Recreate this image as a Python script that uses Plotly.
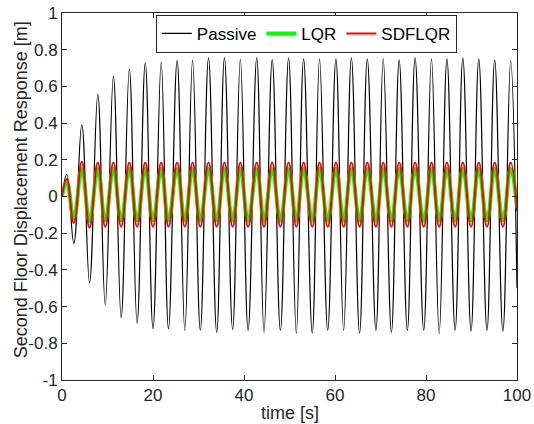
import plotly.graph_objects as go

# Time instants (s): start, alternating peaks/troughs, end
time_s = [0, 1.05, 2.6, 4.35, 6.05, 7.87, 9.5, 11.3, 13.0, 14.8, 16.5, 18.3, 20.0,
          21.8, 23.4, 25.3, 27.0, 28.7, 30.4, 32.2, 34.0, 35.7, 37.5, 39.2, 40.9,
          42.8, 44.4, 46.2, 48.0, 49.8, 51.5, 53.1, 55.0, 56.6, 58.4, 60.2, 61.9,
          63.6, 65.4, 67.1, 69.0, 70.6, 72.4, 74.1, 75.9, 77.6, 79.5, 81.2, 82.9,
          84.6, 86.4, 88.1, 89.9, 91.6, 93.4, 95.1, 96.9, 98.6, 100]

passive = [0, 0.12, -0.255, 0.39, -0.47, 0.557, -0.59, 0.655, -0.66, 0.693, -0.69,
           0.729, -0.72, 0.733, -0.72, 0.742, -0.73, 0.742, -0.73, 0.755, -0.74,
           0.755, -0.725, 0.748, -0.73, 0.755, -0.74, 0.746, -0.73, 0.755, -0.745,
           0.75, -0.745, 0.75, -0.73, 0.75, -0.73, 0.755, -0.745, 0.75, -0.73, 0.75,
           -0.74, 0.745, -0.73, 0.755, -0.73, 0.75, -0.745, 0.75, -0.73, 0.755,
           -0.735, 0.75, -0.73, 0.745, -0.735, 0.74, -0.5]

lqr = [0, 0.08, -0.12, 0.15, -0.135, 0.15, -0.13, 0.15, -0.13, 0.15, -0.13, 0.15,
       -0.13, 0.15, -0.13, 0.15, -0.13, 0.15, -0.13, 0.15, -0.13, 0.15, -0.13, 0.15,
       -0.13, 0.15, -0.13, 0.15, -0.13, 0.15, -0.13, 0.15, -0.13, 0.15, -0.13, 0.15,
       -0.13, 0.15, -0.13, 0.15, -0.13, 0.15, -0.13, 0.15, -0.13, 0.15, -0.13, 0.15,
       -0.13, 0.15, -0.13, 0.15, -0.13, 0.15, -0.13, 0.15, -0.13, 0.15, -0.06]

sdflqr = [0, 0.095, -0.145, 0.19, -0.17, 0.185, -0.165, 0.185, -0.165, 0.185, -0.165,
          0.185, -0.165, 0.185, -0.165, 0.185, -0.165, 0.185, -0.165, 0.185, -0.165,
          0.185, -0.165, 0.185, -0.165, 0.185, -0.165, 0.185, -0.165, 0.185, -0.165,
          0.185, -0.165, 0.185, -0.165, 0.185, -0.165, 0.185, -0.165, 0.185, -0.165,
          0.185, -0.165, 0.185, -0.165, 0.185, -0.165, 0.185, -0.165, 0.185, -0.165,
          0.185, -0.165, 0.185, -0.165, 0.185, -0.165, 0.185, -0.08]

x_tick_vals = [0, 20, 40, 60, 80, 100]
x_tick_text = ["0", "20", "40", "60", "80", "100"]
y_tick_vals = [-1, -0.8, -0.6, -0.4, -0.2, 0, 0.2, 0.4, 0.6, 0.8, 1]
y_tick_text = ["-1", "-0.8", "-0.6", "-0.4", "-0.2", "0", "0.2", "0.4", "0.6", "0.8", "1"]

FONT = "Liberation Sans, Arial, sans-serif"
AXC = "#262626"

fig = go.Figure()
fig.add_trace(go.Scatter(x=time_s, y=passive, name="Passive", mode="lines",
                         line=dict(color="#000000", width=1.2, shape="spline",
                                   smoothing=1.2)))
fig.add_trace(go.Scatter(x=time_s, y=lqr, name="LQR", mode="lines",
                         line=dict(color="#00ff00", width=4, shape="spline",
                                   smoothing=1.3)))
fig.add_trace(go.Scatter(x=time_s, y=sdflqr, name="SDFLQR", mode="lines",
                         line=dict(color="#ff0000", width=2, shape="spline",
                                   smoothing=1.3)))

axis_common = dict(showline=True, linecolor=AXC, linewidth=1, mirror="ticks",
                   ticks="inside", ticklen=5, tickcolor=AXC, showgrid=False,
                   zeroline=False, tickfont=dict(family=FONT, size=17, color=AXC))

fig.update_layout(
    width=534, height=424,
    margin=dict(l=62, r=17, t=13, b=44, autoexpand=False),
    paper_bgcolor="white", plot_bgcolor="white",
    font=dict(family=FONT, color=AXC),
    xaxis=dict(range=[0, 100], tickvals=x_tick_vals, ticktext=x_tick_text, **axis_common),
    yaxis=dict(range=[-1, 1], tickvals=y_tick_vals, ticktext=y_tick_text, **axis_common),
    showlegend=True,
    legend=dict(orientation="h", x=0.537, xanchor="center", y=0.995, yanchor="top",
                bgcolor="white", bordercolor=AXC, borderwidth=1,
                font=dict(family=FONT, size=17, color="#000000"),
                tracegroupgap=0, itemwidth=30),
    annotations=[
        dict(text="Second Floor Displacement Response [m]", xref="paper", yref="paper",
             x=-0.09, y=0.517, xanchor="center", yanchor="middle", textangle=-90,
             showarrow=False, font=dict(family=FONT, size=18, color=AXC)),
        dict(text="time [s]", xref="paper", yref="paper", x=0.5, y=-0.089,
             xanchor="center", yanchor="middle", showarrow=False,
             font=dict(family=FONT, size=18, color=AXC)),
    ],
)

fig.write_html("out.html", config={"displayModeBar": False},
               post_script="document.body.style.margin='0';document.body.style.overflow='hidden';")
